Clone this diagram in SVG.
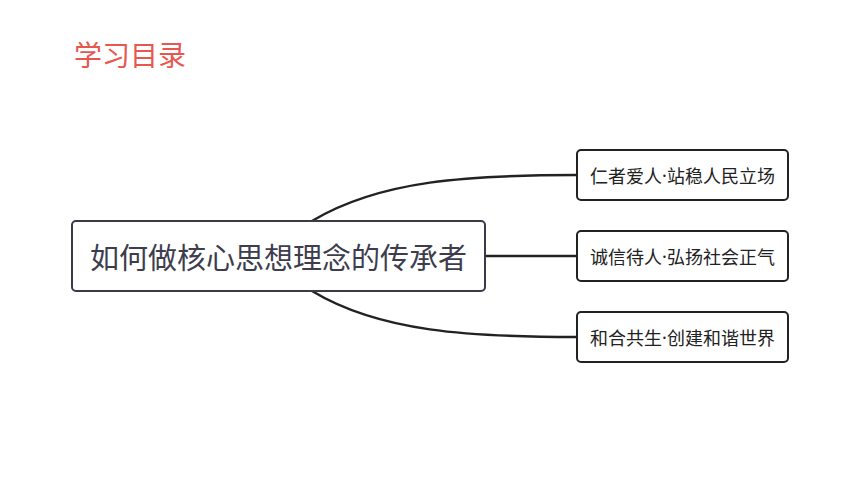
<svg xmlns="http://www.w3.org/2000/svg" width="860" height="484" viewBox="0 0 860 484">
<style>
.box{fill:#fff;stroke:#3a3a48;stroke-width:2}
.sub{fill:#fff;stroke:#222;stroke-width:2}
.t{font-family:"Noto Sans CJK SC","Noto Sans",sans-serif;text-anchor:middle;dominant-baseline:central}
.dot{font-family:"Noto Sans","Liberation Sans",sans-serif}
.link{fill:none;stroke:#222;stroke-width:2.5}
</style>
<rect width="860" height="484" fill="#fff"/>
<text x="74" y="54" font-family="Noto Sans CJK SC, sans-serif" font-size="28" fill="#e8574f" dominant-baseline="central">学习目录</text>
<g id="connectors">
<path class="link" d="M312,221 C380,180 470,175 577,175"/>
<path class="link" d="M485,256 L577,256"/>
<path class="link" d="M312,291 C380,332 470,337 577,337"/>
</g>
<g id="center">
<rect class="box" x="72" y="221" width="413" height="70" rx="4"/>
<text class="t" x="278.5" y="256" font-size="29" fill="#3d3d4d">如何做核心思想理念的传承者</text>
</g>
<g id="n1">
<rect class="sub" x="577" y="150" width="211" height="50" rx="4"/>
<text class="t" x="682.5" y="175" font-size="18" fill="#222">仁者爱人<tspan class="dot">·</tspan>站稳人民立场</text>
</g>
<g id="n2">
<rect class="sub" x="577" y="231" width="211" height="50" rx="4"/>
<text class="t" x="682.5" y="256" font-size="18" fill="#222">诚信待人<tspan class="dot">·</tspan>弘扬社会正气</text>
</g>
<g id="n3">
<rect class="sub" x="577" y="312" width="211" height="50" rx="4"/>
<text class="t" x="682.5" y="337" font-size="18" fill="#222">和合共生<tspan class="dot">·</tspan>创建和谐世界</text>
</g>
</svg>
